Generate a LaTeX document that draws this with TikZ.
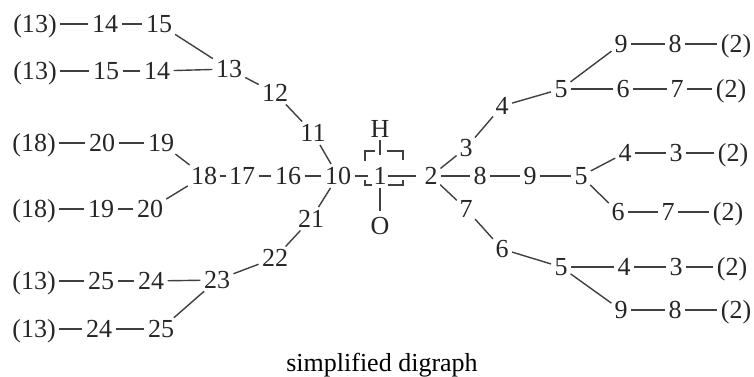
\documentclass[tikz,border=0pt]{standalone}
\usepackage{fontspec}
\setmainfont{Liberation Serif}
\begin{document}
\begin{tikzpicture}[x=1pt,y=-1pt,
  lab/.style={inner sep=0pt, text height=17.5pt, text depth=0pt,
    font=\fontsize{26}{30}\selectfont, text=black!85},
  bond/.style={draw=black!75, line width=1.4pt, shorten <=3.5pt, shorten >=3.5pt},
  sqline/.style={draw=black!75, line width=1.2pt}]
\useasboundingbox (0,0) rectangle (754,376);

% ---- left upper branch
\node[lab] (a13a) at (35,24) {(13)};
\node[lab] (a14a) at (105,24) {14};
\node[lab] (a15a) at (159,24) {15};
\node[lab] (b13) at (35,71) {(13)};
\node[lab] (b15) at (106,71) {15};
\node[lab] (b14) at (157,71) {14};
\node[lab] (n13) at (229,69) {13};
\node[lab] (n12) at (275,93) {12};
\node[lab] (n11) at (313,133) {11};
\node[lab] (n10) at (338,176) {10};
\node[lab] (n16) at (288,176) {16};
\node[lab] (n17) at (242,176) {17};
\node[lab] (n18) at (204,176) {18};
\node[lab] (c18) at (34,143) {(18)};
\node[lab] (c20) at (102,143) {20};
\node[lab] (c19) at (161,143) {19};
\node[lab] (d18) at (34,209) {(18)};
\node[lab] (d19) at (101,209) {19};
\node[lab] (d20) at (150,209) {20};
% ---- left lower branch
\node[lab] (n21) at (311,219) {21};
\node[lab] (n22) at (275,258) {22};
\node[lab] (n23) at (217,280) {23};
\node[lab] (e13) at (34,281) {(13)};
\node[lab] (e25) at (101,281) {25};
\node[lab] (e24) at (151,281) {24};
\node[lab] (f13) at (34,329) {(13)};
\node[lab] (f24) at (99,329) {24};
\node[lab] (f25) at (161,329) {25};
% ---- centre
\node[lab] (H) at (380,129) {H};
\node[lab] (n1) at (380,176) {1};
\node[lab] (O) at (380,226) {O};
\node[lab] (n2) at (431,176) {2};
% ---- right upper
\node[lab] (r3) at (466,148) {3};
\node[lab] (r4) at (502,106) {4};
\node[lab] (r5a) at (561,89) {5};
\node[lab] (r9a) at (621,44) {9};
\node[lab] (r8a) at (675,44) {8};
\node[lab] (r2a) at (736,44) {(2)};
\node[lab] (r6a) at (623,89) {6};
\node[lab] (r7a) at (677,89) {7};
\node[lab] (r2b) at (731,89) {(2)};
% ---- right middle
\node[lab] (r8) at (480,176) {8};
\node[lab] (r9) at (530,176) {9};
\node[lab] (r5b) at (581,176) {5};
\node[lab] (r4b) at (625,153) {4};
\node[lab] (r3b) at (676,153) {3};
\node[lab] (r2c) at (733,153) {(2)};
\node[lab] (r6b) at (618,212) {6};
\node[lab] (r7b) at (668,212) {7};
\node[lab] (r2d) at (728,212) {(2)};
% ---- right lower
\node[lab] (r7) at (466,209) {7};
\node[lab] (r6) at (502,249) {6};
\node[lab] (r5c) at (561,267) {5};
\node[lab] (r4c) at (624,267) {4};
\node[lab] (r3c) at (676,267) {3};
\node[lab] (r2e) at (732,267) {(2)};
\node[lab] (r9c) at (621,310) {9};
\node[lab] (r8c) at (675,310) {8};
\node[lab] (r2f) at (736,310) {(2)};
% ---- caption
\node[inner sep=0pt, anchor=base, font=\fontsize{26}{30}\selectfont, text=black] (cap) at (382,371.5) {simplified digraph};

% ---- bonds
\foreach \a/\b in {a13a/a14a, a14a/a15a, a15a/n13, b13/b15, b15/b14, b14/n13,
  n13/n12, n12/n11, n11/n10, n17/n16, n16/n10,
  c18/c20, c20/c19, c19/n18, d18/d19, d19/d20, d20/n18,
  n10/n21, n21/n22, n22/n23, n23/e24, e24/e25, e25/e13, n23/f25, f25/f24, f24/f13,
  n2/r3, r3/r4, r4/r5a, r5a/r9a, r9a/r8a, r8a/r2a, r5a/r6a, r6a/r7a, r7a/r2b,
  n2/r8, r8/r9, r9/r5b, r5b/r4b, r4b/r3b, r3b/r2c, r5b/r6b, r6b/r7b, r7b/r2d,
  n2/r7, r7/r6, r6/r5c, r5c/r4c, r4c/r3c, r3c/r2e, r5c/r9c, r9c/r8c, r8c/r2f}
  \draw[bond] (\a) -- (\b);
\draw[bond, shorten <=3pt, shorten >=3pt] (n18) -- (n17);
\draw[bond, shorten >=5.5pt] (n10) -- (n1);
\draw[bond, shorten <=1pt, shorten >=8pt] (n1) -- (n2);
\draw[bond, shorten <=2pt, shorten >=12pt] (H) -- (n1);
\draw[bond, shorten <=3pt, shorten >=6pt] (n1) -- (O);

% ---- bracket square round atom 1
\draw[sqline] (375,151) -- (365,151) -- (365,161);
\draw[sqline] (387,151) -- (403,151) -- (403,160);
\draw[sqline] (365,180) -- (365,185) -- (372,185);
\draw[sqline] (403,180) -- (403,185) -- (388,185);
\end{tikzpicture}
\end{document}
